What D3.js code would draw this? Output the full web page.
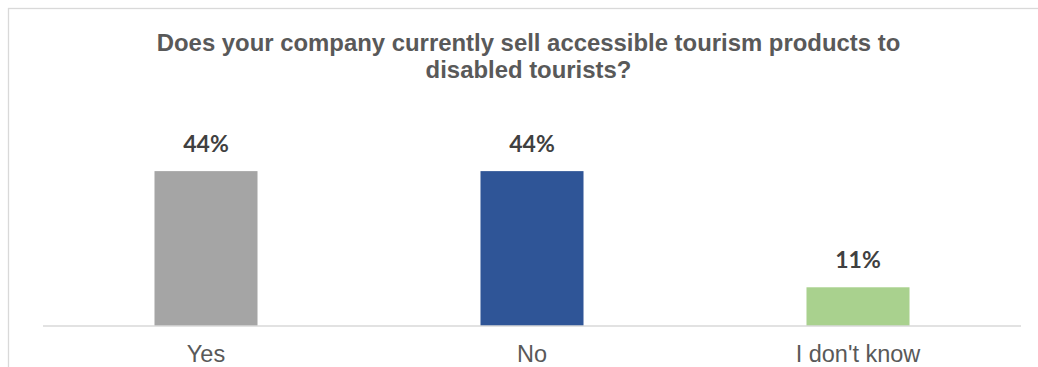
<!DOCTYPE html>
<html>
<head>
<meta charset="utf-8">
<script src="https://cdn.jsdelivr.net/npm/d3@7"></script>
<style>
  html, body { margin: 0; padding: 0; background: #fff; }
  svg { display: block; }
</style>
</head>
<body>
<svg id="chart" width="1038" height="367"></svg>
<script>
// Survey answers and their shares
const categories = ["Yes", "No", "I don't know"];
const shares = [0.44, 0.44, 0.11];
const shareLabels = ["44%", "44%", "11%"];
const barColors = ["#A5A5A5", "#2F5597", "#A9D18E"];
const titleLines = [
  "Does your company currently sell accessible tourism products to",
  "disabled tourists?"
];

const svg = d3.select("#chart");

// Chart frame (continues past the right and bottom edges)
svg.append("rect")
  .attr("x", 8.5).attr("y", 8.5)
  .attr("width", 1100).attr("height", 400)
  .attr("fill", "#fff")
  .attr("stroke", "#D9D9D9")
  .attr("stroke-width", 1.3);

const plot = { left: 43, right: 1021, top: 150, bottom: 326 };

const x = d3.scaleBand()
  .domain(categories)
  .range([plot.left, plot.right])
  .paddingInner(0.684)
  .paddingOuter(0.342);

const y = d3.scaleLinear()
  .domain([0, 0.5])
  .range([plot.bottom, plot.top]);

// Title
const title = svg.append("text")
  .attr("x", 528.5)
  .attr("y", 51)
  .attr("text-anchor", "middle")
  .attr("font-family", "'Liberation Sans', Arial, sans-serif")
  .attr("font-weight", "bold")
  .attr("font-size", 23.9)
  .attr("fill", "#595959");
titleLines.forEach((line, i) => {
  title.append("tspan")
    .attr("x", 528.5)
    .attr("dy", i === 0 ? 0 : 27)
    .text(line);
});

// Bars
svg.append("g")
  .selectAll("rect")
  .data(categories)
  .join("rect")
  .attr("x", d => x(d))
  .attr("width", x.bandwidth())
  .attr("y", (d, i) => y(shares[i]))
  .attr("height", (d, i) => y(0) - y(shares[i]))
  .attr("fill", (d, i) => barColors[i]);

// Category axis
const axis = svg.append("g")
  .attr("transform", `translate(0,${plot.bottom})`)
  .call(d3.axisBottom(x).tickSize(0).tickPadding(19));
axis.select(".domain")
  .attr("stroke", "#D9D9D9")
  .attr("stroke-width", 1.5)
  .attr("d", `M${plot.left},0H${plot.right}`);
axis.selectAll("text")
  .attr("font-family", "'Liberation Sans', Arial, sans-serif")
  .attr("font-size", 23.5)
  .attr("fill", "#595959");

// Value labels
svg.append("g")
  .selectAll("text")
  .data(categories)
  .join("text")
  .attr("x", d => x(d) + x.bandwidth() / 2)
  .attr("y", (d, i) => y(shares[i]) - 19)
  .attr("text-anchor", "middle")
  .attr("font-family", "Lato, 'Open Sans', sans-serif")
  .attr("font-weight", "bold")
  .attr("font-size", 23)
  .attr("fill", "#404040")
  .text((d, i) => shareLabels[i]);
</script>
</body>
</html>
